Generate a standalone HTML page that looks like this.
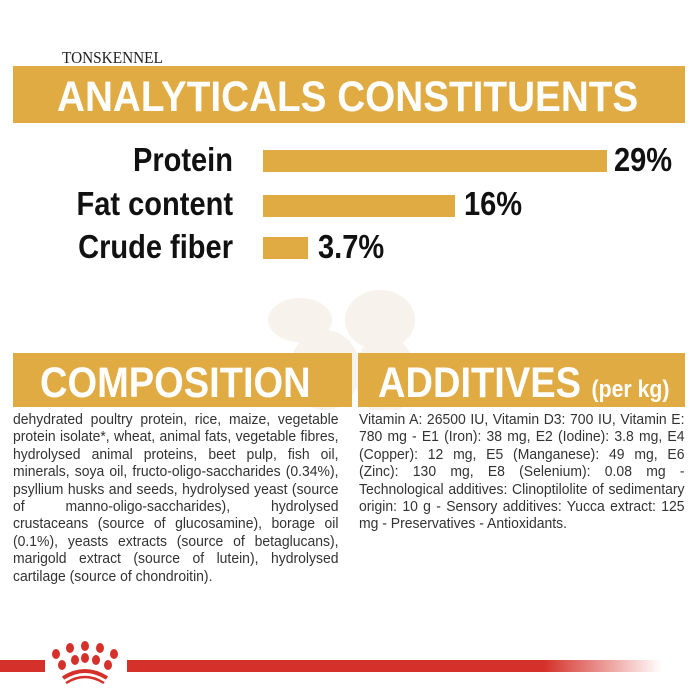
<!DOCTYPE html>
<html><head><meta charset="utf-8"><style>
body{margin:0;width:700px;height:700px;background:#fff;position:relative;overflow:hidden;font-family:"Liberation Sans",sans-serif}
.a{position:absolute}
.band{background:#e0ab43}
.h{color:#fff;font-weight:bold;white-space:nowrap;transform-origin:0 0}
.lab{font-weight:bold;font-size:33px;color:#111;white-space:nowrap;transform:scaleX(.88);transform-origin:100% 0;text-align:right;width:300px}
.val{font-weight:bold;font-size:33px;color:#111;white-space:nowrap;transform:scaleX(.88);transform-origin:0 0}
.bar{background:#e0ab43;height:22px}
.t{font-size:14.5px;line-height:17.4px;color:#333}
.t span{display:block;transform:scaleX(.963);transform-origin:0 0;width:338px;text-align:justify;text-align-last:left}
</style></head><body>
<div class="a" style="left:62px;top:48px;font-family:'Liberation Serif',serif;font-size:17px;color:#222;transform:scaleX(.9);transform-origin:0 0">TONSKENNEL</div>
<div class="a band" style="left:13px;top:66px;width:672px;height:57px"></div>
<div class="a h" style="left:57px;top:73px;font-size:43px;transform:scaleX(.9)">ANALYTICALS CONSTITUENTS</div>

<div class="a lab" style="left:-67px;top:141px">Protein</div>
<div class="a bar" style="left:263px;top:150px;width:344px"></div>
<div class="a val" style="left:614px;top:141px">29%</div>
<div class="a lab" style="left:-67px;top:185px">Fat content</div>
<div class="a bar" style="left:263px;top:195px;width:192px"></div>
<div class="a val" style="left:464px;top:185px">16%</div>
<div class="a lab" style="left:-67px;top:228px">Crude fiber</div>
<div class="a bar" style="left:263px;top:237px;width:45px"></div>
<div class="a val" style="left:318px;top:228px">3.7%</div>

<svg class="a" style="left:255px;top:280px" width="180" height="130"><g fill="#b8864a" opacity=".1"><ellipse cx="45" cy="40" rx="32" ry="22"/><ellipse cx="70" cy="90" rx="35" ry="40"/><ellipse cx="125" cy="40" rx="35" ry="30"/><ellipse cx="130" cy="95" rx="30" ry="40"/></g></svg>

<div class="a band" style="left:13px;top:353px;width:339px;height:54px"></div>
<div class="a band" style="left:358px;top:353px;width:327px;height:54px"></div>
<div class="a h" style="left:40px;top:359px;font-size:43px;transform:scaleX(.885)">COMPOSITION</div>
<div class="a h" style="left:378px;top:359px;font-size:43px;transform:scaleX(.885)">ADDITIVES <span style="font-size:24px">(per kg)</span></div>

<div class="a t" style="left:13px;top:412px;width:325px"><span>dehydrated poultry protein, rice, maize, vegetable protein isolate*, wheat, animal fats, vegetable fibres, hydrolysed animal proteins, beet pulp, fish oil, minerals, soya oil, fructo-oligo-saccharides (0.34%), psyllium husks and seeds, hydrolysed yeast (source of manno-oligo-saccharides), hydrolysed crustaceans (source of glucosamine), borage oil (0.1%), yeasts extracts (source of betaglucans), marigold extract (source of lutein), hydrolysed cartilage (source of chondroitin).</span></div>
<div class="a t" style="left:359px;top:412px;width:325px"><span>Vitamin A: 26500 IU, Vitamin D3: 700 IU, Vitamin E: 780 mg - E1 (Iron): 38 mg, E2 (Iodine): 3.8 mg, E4 (Copper): 12 mg, E5 (Manganese): 49 mg, E6 (Zinc): 130 mg, E8 (Selenium): 0.08 mg - Technological additives: Clinoptilolite of sedimentary origin: 10 g - Sensory additives: Yucca extract: 125 mg - Preservatives - Antioxidants.</span></div>

<div class="a" style="left:0;top:660px;width:45px;height:12px;background:#d5312a"></div>
<div class="a" style="left:127px;top:660px;width:535px;height:12px;background:linear-gradient(90deg,#d5312a 0,#d5312a 78%,rgba(213,49,42,0) 100%)"></div>
<svg class="a" style="left:45px;top:640px" width="80" height="45"><g fill="#d5312a"><ellipse cx="11" cy="14" rx="4" ry="5"/><ellipse cx="25" cy="8" rx="4" ry="5"/><ellipse cx="40" cy="6" rx="4" ry="5"/><ellipse cx="55" cy="8" rx="4" ry="5"/><ellipse cx="69" cy="14" rx="4" ry="5"/><ellipse cx="17" cy="25" rx="4" ry="5"/><ellipse cx="30" cy="20" rx="4" ry="5"/><ellipse cx="40" cy="18" rx="4" ry="5"/><ellipse cx="51" cy="20" rx="4" ry="5"/><ellipse cx="63" cy="25" rx="4" ry="5"/></g><path d="M18 38 Q40 24 62 38" stroke="#d5312a" stroke-width="4" fill="none"/><path d="M21 43 Q40 31 59 43" stroke="#d5312a" stroke-width="2.5" fill="none"/></svg>
</body></html>
